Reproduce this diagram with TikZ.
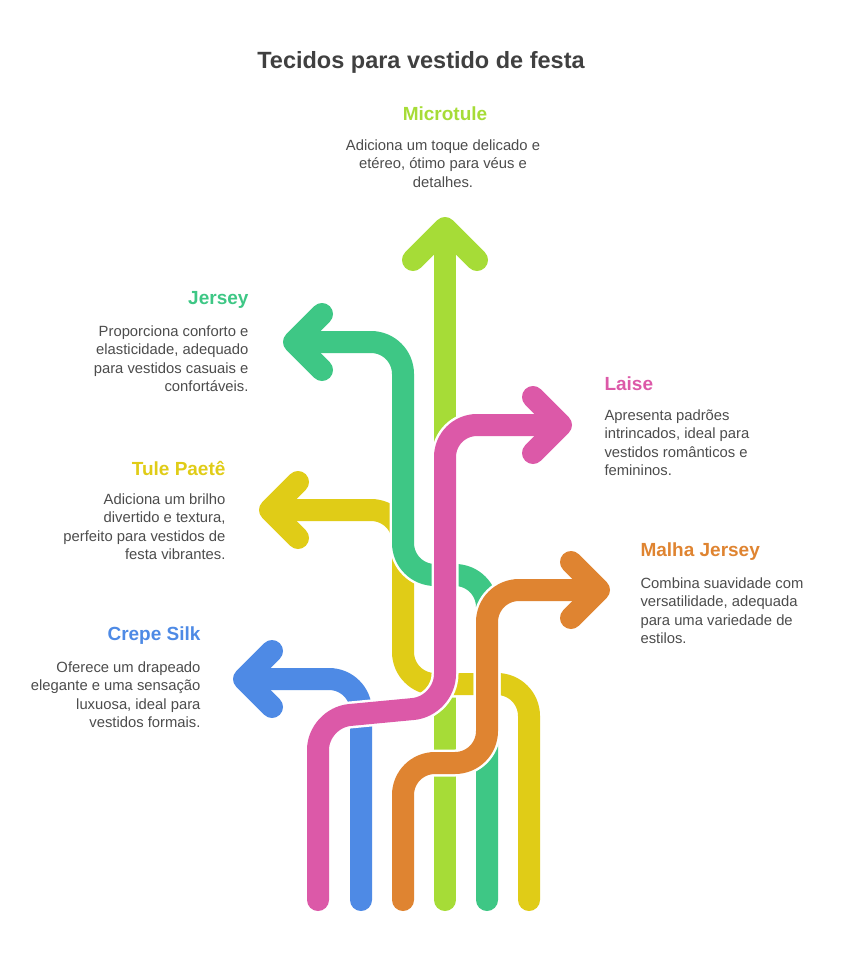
\documentclass[tikz,border=0pt]{standalone}
\usepackage{fontspec}
\setmainfont{Liberation Sans}
\begin{document}
\begin{tikzpicture}[x=1pt,y=-1pt,
  band/.style={line width=22pt,line cap=round,rounded corners=32pt,preaction={draw=white,line width=27pt}},
  head/.style={line width=22pt,line cap=round,line join=round},
  ttl/.style={font=\bfseries\fontsize{19}{22}\selectfont},
  body/.style={font=\fontsize{14.8}{18.5}\selectfont,text=black!70},
]
\definecolor{clime}{HTML}{A6DC37}\definecolor{cgreen}{HTML}{3EC785}
\definecolor{cyel}{HTML}{E0CC17}\definecolor{cblue}{HTML}{4E8AE5}
\definecolor{corg}{HTML}{DF8431}\definecolor{cpink}{HTML}{DC59A8}
\useasboundingbox (0,0) rectangle (842,961);
\node[font=\bfseries\fontsize{23.5}{26}\selectfont,text=black!75] (title) at (421,62) {Tecidos para vestido de festa};
% paths
\coordinate (lb) at (445,900);\coordinate (lt) at (445,232);
\draw[band,clime] (lb) -- (lt);
\draw[head,clime] (413,260) -- (445,228) -- (477,260);
\coordinate (yb) at (529,900);\coordinate (yt) at (272,510);
\draw[band,cyel] (yb) -- (529,684) -- (403,684) -- (403,510) -- (yt);
\draw[head,cyel] (298,482) -- (270,510) -- (298,538);
\coordinate (bb) at (361,900);\coordinate (bt) at (248,679);
\draw[band,cblue] (bb) -- (361,679) -- (bt);
\draw[head,cblue] (272,651) -- (244,679) -- (272,707);
\coordinate (gb) at (487,900);\coordinate (gt) at (296,342);
\draw[band,cgreen] (gb) -- (487,575) -- (403,575) -- (403,342) -- (gt);
\draw[head,cgreen] (322,314) -- (294,342) -- (322,370);
\coordinate (ob) at (403,900);\coordinate (ot) at (596,590);
\draw[band,corg] (ob) -- (403,763) -- (487,763) -- (487,590) -- (ot);
\draw[head,corg] (571,562) -- (599,590) -- (571,618);
\coordinate (pb) at (318,900);\coordinate (pt) at (560,425);
\draw[band,cpink] (pb) -- (318,718) -- (445,706) -- (445,425) -- (pt);
\draw[head,cpink] (533,397) -- (561,425) -- (533,453);
% labels
\node[ttl,text=clime] (mt) at (445,114) {Microtule};
\node[body,align=center,anchor=north] (mb) at (443,136) {Adiciona um toque delicado e\\etéreo, ótimo para véus e\\detalhes.};
\node[ttl,text=cgreen,anchor=east] (jt) at (252,300) {Jersey};
\node[body,align=right,anchor=north east] (jb) at (252,322) {Proporciona conforto e\\elasticidade, adequado\\para vestidos casuais e\\confortáveis.};
\node[ttl,text=cyel,anchor=east] (tt) at (229,468) {Tule Paetê};
\node[body,align=right,anchor=north east] (tb) at (229,490) {Adiciona um brilho\\divertido e textura,\\perfeito para vestidos de\\festa vibrantes.};
\node[ttl,text=cblue,anchor=east] (ct) at (204,636) {Crepe Silk};
\node[body,align=right,anchor=north east] (cb) at (204,658) {Oferece um drapeado\\elegante e uma sensação\\luxuosa, ideal para\\vestidos formais.};
\node[ttl,text=cpink,anchor=west] (lt2) at (601,384) {Laise};
\node[body,align=left,anchor=north west] (lb2) at (601,406) {Apresenta padrões\\intrincados, ideal para\\vestidos românticos e\\femininos.};
\node[ttl,text=corg,anchor=west] (ht) at (637,552) {Malha Jersey};
\node[body,align=left,anchor=north west] (hb) at (637,574) {Combina suavidade com\\versatilidade, adequada\\para uma variedade de\\estilos.};
\end{tikzpicture}
\end{document}
